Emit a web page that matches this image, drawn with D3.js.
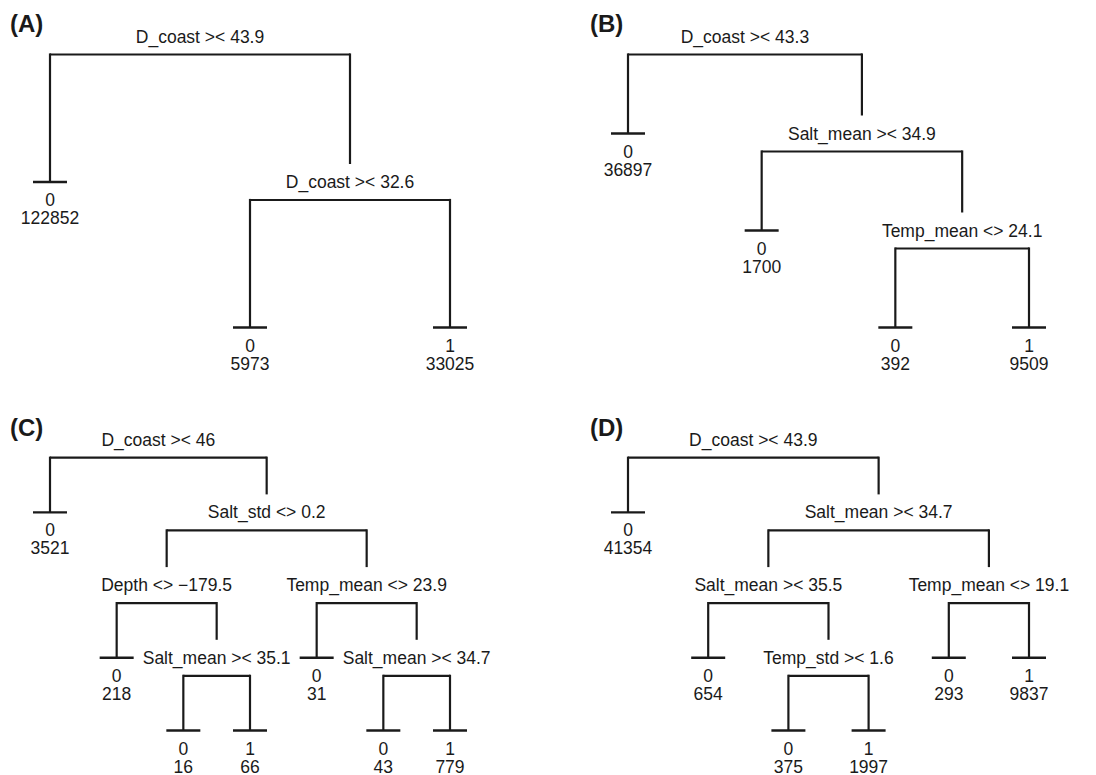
<!DOCTYPE html>
<html>
<head>
<meta charset="utf-8">
<script src="https://cdn.jsdelivr.net/npm/d3@7"></script>
<style>
  html, body { margin: 0; padding: 0; background: #fff; }
  svg text { font-family: "Liberation Sans", Arial, Helvetica, sans-serif; fill: #1a1a1a; }
</style>
</head>
<body>
<svg id="chart" width="1096" height="775"></svg>
<script>
// ---------------- DATA ----------------
const panelLabels = ["(A)", "(B)", "(C)", "(D)"];

// tree shapes in preorder: S = split node, L = leaf
const shapeA = "SLSLL";
const shapeB = "SLSLSLL";
const shapeC = "SLSSLSLLSLSLL";
const shapeD = "SLSSLSLLSLL";

// split labels (preorder)
const splitsA = ["D_coast >< 43.9", "D_coast >< 32.6"];
const splitsB = ["D_coast >< 43.3", "Salt_mean >< 34.9", "Temp_mean <> 24.1"];
const splitsC = ["D_coast >< 46", "Salt_std <> 0.2", "Depth <> \u2212179.5", "Salt_mean >< 35.1", "Temp_mean <> 23.9", "Salt_mean >< 34.7"];
const splitsD = ["D_coast >< 43.9", "Salt_mean >< 34.7", "Salt_mean >< 35.5", "Temp_std >< 1.6", "Temp_mean <> 19.1"];

// leaf predicted classes and counts (left to right)
const classesA = [0, 0, 1];
const countsA  = [122852, 5973, 33025];
const classesB = [0, 0, 0, 1];
const countsB  = [36897, 1700, 392, 9509];
const classesC = [0, 0, 0, 1, 0, 0, 1];
const countsC  = [3521, 218, 16, 66, 31, 43, 779];
const classesD = [0, 0, 0, 1, 0, 1];
const countsD  = [41354, 654, 375, 1997, 293, 9837];

// ---------------- BUILD ----------------
function buildTree(shape, splits, classes, counts) {
  let i = 0, s = 0, l = 0;
  function rec() {
    const c = shape[i++];
    if (c === "S") {
      const node = { label: splits[s++], children: [] };
      node.children.push(rec());
      node.children.push(rec());
      return node;
    } else {
      const node = { cls: classes[l], n: counts[l] };
      l++;
      return node;
    }
  }
  return d3.hierarchy(rec());
}

const panels = [
  { tree: buildTree(shapeA, splitsA, classesA, countsA), col: 0, row: 0 },
  { tree: buildTree(shapeB, splitsB, classesB, countsB), col: 1, row: 0 },
  { tree: buildTree(shapeC, splitsC, classesC, countsC), col: 0, row: 1 },
  { tree: buildTree(shapeD, splitsD, classesD, countsD), col: 1, row: 1 }
];

const colX = [[50, 450], [628, 1029]];
const rowY = [[54.5, 345.5], [457.7, 748.5]];
const labelPos = [[10, 32], [590, 32], [10, 436], [590, 436]];

const svg = d3.select("#chart");
const FS = 17.5;
const LINE = "#1a1a1a";
const INT_GAP = 36, LEAF_GAP = 18, BAR_HALF = 17;

panels.forEach((p, pi) => {
  const root = p.tree;
  const leaves = root.leaves();
  const maxDepth = d3.max(leaves, d => d.depth);
  const x = d3.scaleLinear().domain([0, leaves.length - 1]).range(colX[p.col]);
  const y = d3.scaleLinear().domain([0, maxDepth]).range(rowY[p.row]);

  leaves.forEach((d, i) => { d.px = x(i); });
  root.eachAfter(d => {
    if (d.children) d.px = d3.mean(d.children, c => c.px);
    d.py = y(d.depth);
  });

  const g = svg.append("g");

  g.append("text")
    .attr("x", labelPos[pi][0]).attr("y", labelPos[pi][1])
    .attr("font-size", 24).attr("font-weight", "bold")
    .text(panelLabels[pi]);

  const internals = root.descendants().filter(d => d.children);
  const leafNodes = root.leaves();

  // horizontal split lines
  g.selectAll("line.h").data(internals).enter().append("line")
    .attr("x1", d => d.children[0].px).attr("x2", d => d.children[1].px)
    .attr("y1", d => d.py).attr("y2", d => d.py)
    .attr("stroke", LINE).attr("stroke-width", 2.2);

  // vertical lines to children
  const links = root.links();
  g.selectAll("line.v").data(links).enter().append("line")
    .attr("x1", d => d.target.px).attr("x2", d => d.target.px)
    .attr("y1", d => d.source.py - 1.1)
    .attr("y2", d => d.target.children ? d.target.py - INT_GAP : d.target.py - LEAF_GAP)
    .attr("stroke", LINE).attr("stroke-width", 2.2);

  // split labels
  g.selectAll("text.split").data(internals).enter().append("text")
    .attr("x", d => d.px).attr("y", d => d.py - 12)
    .attr("text-anchor", "middle").attr("font-size", FS)
    .text(d => d.data.label);

  // leaf bars
  g.selectAll("line.bar").data(leafNodes).enter().append("line")
    .attr("x1", d => d.px - BAR_HALF).attr("x2", d => d.px + BAR_HALF)
    .attr("y1", d => d.py - LEAF_GAP).attr("y2", d => d.py - LEAF_GAP)
    .attr("stroke", LINE).attr("stroke-width", 2.4);

  // leaf labels
  g.selectAll("text.cls").data(leafNodes).enter().append("text")
    .attr("x", d => d.px).attr("y", d => d.py + 6)
    .attr("text-anchor", "middle").attr("font-size", FS)
    .text(d => d.data.cls);
  g.selectAll("text.cnt").data(leafNodes).enter().append("text")
    .attr("x", d => d.px).attr("y", d => d.py + 24)
    .attr("text-anchor", "middle").attr("font-size", FS)
    .text(d => d.data.n);
});
</script>
</body>
</html>
